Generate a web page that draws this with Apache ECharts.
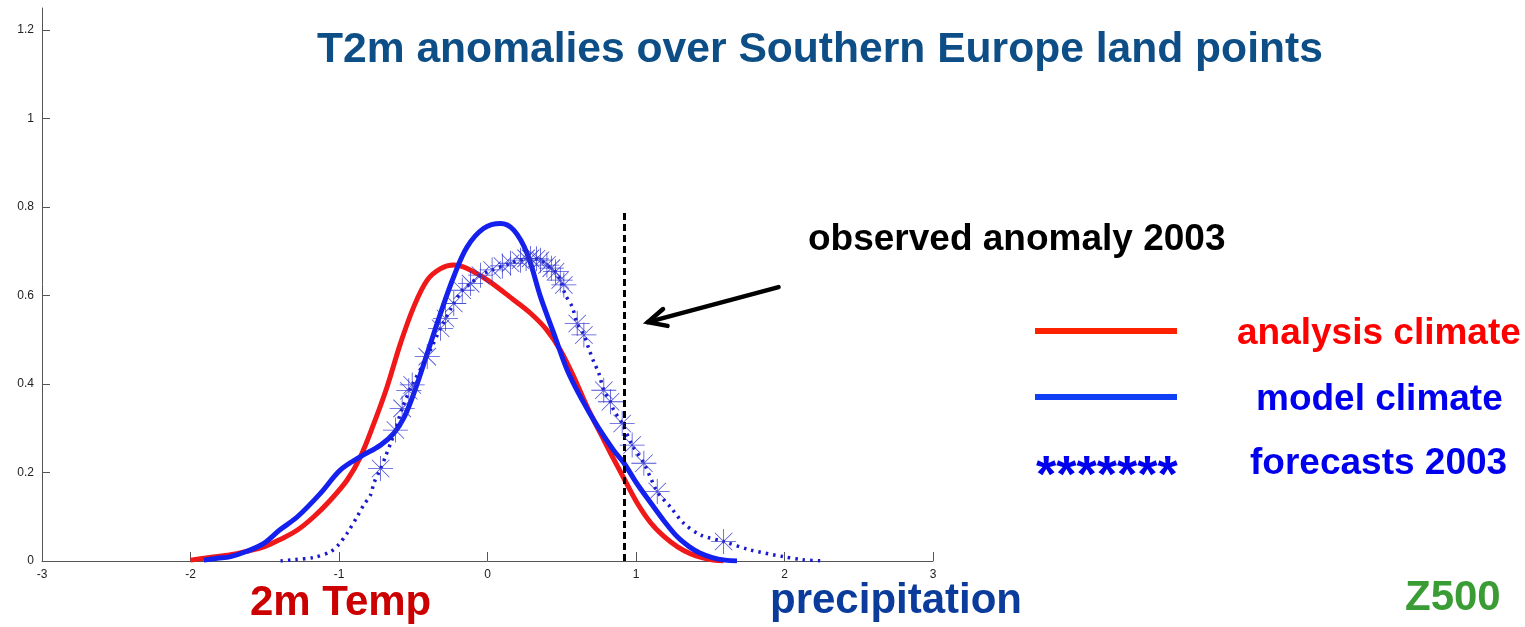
<!DOCTYPE html>
<html>
<head>
<meta charset="utf-8">
<title>T2m anomalies over Southern Europe land points</title>
<script src="https://cdn.jsdelivr.net/npm/echarts@6/dist/echarts.min.js"></script>
<style>
  html, body { margin: 0; padding: 0; background: #ffffff; }
  #chart { width: 1525px; height: 627px; }
</style>
</head>
<body>
<div id="chart"></div>
<script>
// Probability densities of 2 m temperature anomalies (K), Southern Europe land points
const analysisClimate = [
  [-2.00, 0.002], [-1.87, 0.008], [-1.73, 0.014], [-1.62, 0.022], [-1.506, 0.032],
  [-1.40, 0.048], [-1.28, 0.070], [-1.17, 0.100], [-1.057, 0.138], [-0.945, 0.183],
  [-0.855, 0.236], [-0.765, 0.311], [-0.676, 0.394], [-0.586, 0.492], [-0.496, 0.575],
  [-0.406, 0.635], [-0.316, 0.661], [-0.227, 0.669], [-0.137, 0.661], [0.00, 0.635],
  [0.177, 0.590], [0.29, 0.560], [0.40, 0.522], [0.49, 0.477], [0.58, 0.417],
  [0.67, 0.349], [0.76, 0.289], [0.83, 0.243], [0.92, 0.186], [1.01, 0.130],
  [1.10, 0.086], [1.19, 0.055], [1.28, 0.032], [1.37, 0.016], [1.45, 0.007],
  [1.52, 0.002], [1.59, 0.000]
];

const modelClimate = [
  [-1.91, 0.002], [-1.82, 0.006], [-1.73, 0.010], [-1.62, 0.022], [-1.506, 0.040],
  [-1.40, 0.070], [-1.28, 0.100], [-1.125, 0.153], [-0.99, 0.206], [-0.855, 0.236],
  [-0.72, 0.262], [-0.63, 0.289], [-0.56, 0.326], [-0.496, 0.379], [-0.406, 0.469],
  [-0.316, 0.560], [-0.227, 0.643], [-0.137, 0.710], [-0.025, 0.752], [0.088, 0.763],
  [0.177, 0.748], [0.267, 0.695], [0.357, 0.597], [0.447, 0.514], [0.536, 0.432],
  [0.626, 0.371], [0.738, 0.306], [0.85, 0.250], [0.92, 0.221], [1.00, 0.178],
  [1.10, 0.131], [1.19, 0.090], [1.28, 0.054], [1.36, 0.032], [1.43, 0.018],
  [1.52, 0.007], [1.60, 0.002], [1.68, 0.000]
];

const forecastDensity = [
  [-1.394, 0.000], [-1.30, 0.003], [-1.17, 0.008], [-1.057, 0.021], [-1.00, 0.038],
  [-0.945, 0.063], [-0.878, 0.100], [-0.833, 0.127], [-0.788, 0.149], [-0.765, 0.176],
  [-0.72, 0.209], [-0.687, 0.236], [-0.653, 0.266], [-0.62, 0.296], [-0.575, 0.345],
  [-0.507, 0.398], [-0.406, 0.462], [-0.316, 0.526], [-0.227, 0.582], [-0.17, 0.612],
  [-0.114, 0.627], [-0.047, 0.646], [0.031, 0.658], [0.155, 0.673], [0.222, 0.680],
  [0.29, 0.684], [0.357, 0.680], [0.40, 0.669], [0.458, 0.654], [0.49, 0.635],
  [0.525, 0.601], [0.57, 0.575], [0.604, 0.537], [0.649, 0.511], [0.682, 0.480],
  [0.716, 0.450], [0.75, 0.424], [0.783, 0.386], [0.828, 0.360], [0.85, 0.341],
  [0.907, 0.311], [0.974, 0.262], [1.053, 0.221], [1.143, 0.157], [1.232, 0.122],
  [1.322, 0.085], [1.434, 0.059], [1.59, 0.044], [1.77, 0.025], [1.99, 0.010],
  [2.12, 0.003], [2.26, 0.000]
];

// individual 2003 forecasts
const forecasts2003 = [
  [-0.72, 0.209], [-0.62, 0.296], [-0.575, 0.345], [-0.53, 0.385], [-0.507, 0.398],
  [-0.406, 0.462], [-0.316, 0.526], [-0.283, 0.548], [-0.227, 0.582], [-0.17, 0.612],
  [-0.114, 0.627], [-0.047, 0.646], [0.031, 0.658], [0.10, 0.667], [0.155, 0.673],
  [0.222, 0.680], [0.26, 0.684], [0.29, 0.684], [0.33, 0.683], [0.357, 0.680],
  [0.40, 0.669], [0.43, 0.662], [0.458, 0.654], [0.49, 0.635], [0.514, 0.624],
  [0.604, 0.537], [0.649, 0.511], [0.783, 0.386], [0.828, 0.360], [0.907, 0.311],
  [0.974, 0.262], [1.053, 0.221], [1.143, 0.157], [1.59, 0.044]
];

const observedAnomaly2003 = 0.92;
const observedLineTop = 0.79;
const arrowFrom = [1.96, 0.619];
const arrowTo = [1.08, 0.540];

const yTicks = [0, 0.2, 0.4, 0.6, 0.8, 1, 1.2];
const xTicks = [-3, -2, -1, 0, 1, 2, 3];

const BOLD = 'Liberation Sans, Arial, Helvetica, sans-serif';

// eight-armed asterisk marker
const asteriskPath = 'path://' +
  'M0 48.4 L100 48.4 L100 51.6 L0 51.6 Z ' +
  'M48.4 0 L51.6 0 L51.6 100 L48.4 100 Z ' +
  'M13.9 16.1 L16.1 13.9 L86.1 83.9 L83.9 86.1 Z ' +
  'M83.9 13.9 L86.1 16.1 L16.1 86.1 L13.9 83.9 Z';

const chart = echarts.init(document.getElementById('chart'), null, { renderer: 'canvas' });

const textItem = (text, x, y, size, color) => ({
  type: 'text', x: x, y: y,
  style: { text: text, font: 'bold ' + size + 'px ' + BOLD, fill: color,
           textAlign: 'left', textVerticalAlign: 'middle' }
});

const option = {
  backgroundColor: '#ffffff',
  animation: false,
  grid: { left: 42, right: 592, top: 8, bottom: 66, containLabel: false },
  xAxis: {
    type: 'value',
    min: -3, max: 3, interval: 1,
    splitLine: { show: false },
    axisLine: { onZero: false, lineStyle: { color: '#555555', width: 1 } },
    axisTick: { inside: true, length: 9, lineStyle: { color: '#555555' }, customValues: xTicks },
    axisLabel: { color: '#222222', fontSize: 12, fontFamily: 'Liberation Sans, Arial, sans-serif', margin: 8, customValues: xTicks }
  },
  yAxis: {
    type: 'value',
    min: 0, max: 1.25, interval: 0.2,
    splitLine: { show: false },
    axisLine: { onZero: false, lineStyle: { color: '#555555', width: 1 } },
    axisTick: { inside: true, length: 8, lineStyle: { color: '#555555' }, customValues: yTicks },
    axisLabel: { color: '#222222', fontSize: 12, fontFamily: 'Liberation Sans, Arial, sans-serif', margin: 8, customValues: yTicks }
  },
  series: [
    {
      name: 'analysis climate',
      type: 'line',
      data: analysisClimate,
      smooth: 0.35,
      showSymbol: false,
      lineStyle: { color: '#f01818', width: 5 },
      z: 2
    },
    {
      name: 'model climate',
      type: 'line',
      data: modelClimate,
      smooth: 0.35,
      showSymbol: false,
      lineStyle: { color: '#1420ee', width: 5 },
      z: 3,
      markLine: {
        silent: true,
        symbol: ['none', 'none'],
        label: { show: false },
        lineStyle: { color: '#000000', width: 3, type: [7, 4] },
        data: [[
          { coord: [observedAnomaly2003, 0] },
          { coord: [observedAnomaly2003, observedLineTop] }
        ]]
      }
    },
    {
      name: 'forecast density',
      type: 'line',
      data: forecastDensity,
      smooth: 0.3,
      showSymbol: false,
      lineStyle: { color: '#1a1ad0', width: 3.5, type: [2.5, 5] },
      z: 4
    },
    {
      name: 'forecasts 2003',
      type: 'scatter',
      data: forecasts2003,
      symbol: asteriskPath,
      symbolSize: 25,
      itemStyle: { color: '#2a30d0', opacity: 0.85 },
      z: 5
    }
  ],
  graphic: [
    textItem('T2m anomalies over Southern Europe land points', 317, 50, 42.6, '#0d4e86'),
    textItem('observed anomaly 2003', 808, 240, 37, '#000000'),
    // legend
    { type: 'line', shape: { x1: 1035, y1: 331, x2: 1177, y2: 331 },
      style: { stroke: '#ff2200', lineWidth: 6 } },
    textItem('analysis climate', 1237, 334, 37, '#ff0000'),
    { type: 'line', shape: { x1: 1035, y1: 397, x2: 1177, y2: 397 },
      style: { stroke: '#1040f5', lineWidth: 6 } },
    textItem('model climate', 1256, 400, 37, '#0000ee'),
    textItem('*******', 1036, 478, 52, '#0000ee'),
    textItem('forecasts 2003', 1250, 464, 37, '#0000ee'),
    // variable labels along the bottom
    textItem('2m Temp', 250, 603, 42, '#cc0000'),
    textItem('precipitation', 770, 601, 42, '#0b3c9c'),
    textItem('Z500', 1405, 598, 42, '#3a9c34')
  ]
};

chart.setOption(option);

// arrow pointing at the observed anomaly line
const p0 = chart.convertToPixel({ gridIndex: 0 }, arrowFrom);
const p1 = chart.convertToPixel({ gridIndex: 0 }, arrowTo);
const ang = Math.atan2(p0[1] - p1[1], p0[0] - p1[0]);
const headLen = 20, spread = 0.45;
const h1 = [p1[0] + headLen * Math.cos(ang + spread), p1[1] + headLen * Math.sin(ang + spread)];
const h2 = [p1[0] + headLen * Math.cos(ang - spread), p1[1] + headLen * Math.sin(ang - spread)];
chart.setOption({
  graphic: option.graphic.concat([
    { type: 'line', shape: { x1: p0[0], y1: p0[1], x2: p1[0], y2: p1[1] },
      style: { stroke: '#000000', lineWidth: 4.5, lineCap: 'round' } },
    { type: 'polyline', shape: { points: [h1, p1, h2] },
      style: { stroke: '#000000', lineWidth: 4.5, lineCap: 'round', lineJoin: 'miter', fill: null } }
  ])
});
</script>
</body>
</html>
